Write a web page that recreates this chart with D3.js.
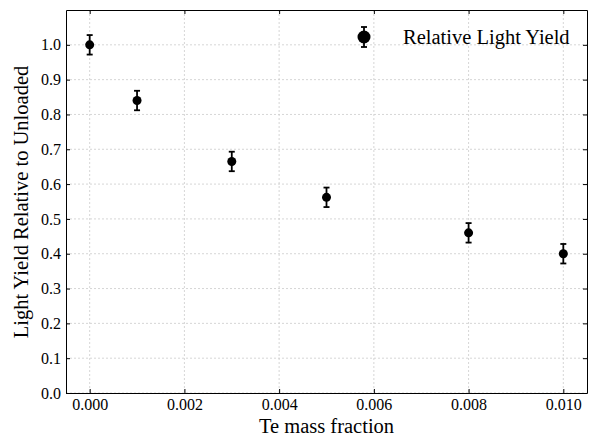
<!DOCTYPE html>
<html>
<head>
<meta charset="utf-8">
<script src="https://cdn.jsdelivr.net/npm/d3@7"></script>
<style>
body{margin:0;background:#fff;}
</style>
</head>
<body>
<div id="chart"></div>
<script>
var fractions=[0,0.001,0.003,0.005,0.008,0.010];
var yields=[1.0,0.84,0.665,0.562,0.46,0.40];
var errors=[0.028,0.028,0.028,0.028,0.028,0.028];
var xTicks=[0,0.002,0.004,0.006,0.008,0.010];
var yTicks=[0,0.1,0.2,0.3,0.4,0.5,0.6,0.7,0.8,0.9,1.0];

var width=590,height=437,
    margin={"left":66,"top":10,"right":3,"bottom":44},
    font="'Liberation Serif', 'Times New Roman', serif";

var svg=d3.select("#chart").append("svg")
    .attr("width",width).attr("height",height);

var x=d3.scaleLinear().domain([-0.0005,0.0105]).range([margin.left,width-margin.right]);
var y=d3.scaleLinear().domain([0,1.1]).range([height-margin.bottom,margin.top]);

// grid
svg.append("g").selectAll("line").data(xTicks).enter().append("line")
    .attr("x1",d=>x(d)).attr("x2",d=>x(d))
    .attr("y1",margin.top).attr("y2",height-margin.bottom)
    .attr("stroke","#ccc").attr("stroke-width",0.8).attr("stroke-dasharray","2,2");
svg.append("g").selectAll("line").data(yTicks).enter().append("line")
    .attr("x1",margin.left).attr("x2",width-margin.right)
    .attr("y1",d=>y(d)).attr("y2",d=>y(d))
    .attr("stroke","#ccc").attr("stroke-width",0.8).attr("stroke-dasharray","2,2");

// axes, ticks inward
function style(g){
    g.attr("font-family",null).attr("font-size",null);
    g.selectAll("text").attr("fill","#000").style("font-family",font).style("font-size","16px");
    g.select(".domain").attr("stroke","#000");
    g.selectAll(".tick line").attr("stroke","#000");
}
svg.append("g").attr("transform","translate(0,"+(height-margin.bottom)+")")
    .call(d3.axisBottom(x).tickValues(xTicks).tickFormat(d3.format(".3f")).tickSizeInner(-4).tickSizeOuter(0).tickPadding(6))
    .call(style);
svg.append("g").attr("transform","translate("+margin.left+",0)")
    .call(d3.axisLeft(y).tickValues(yTicks).tickFormat(d3.format(".1f")).tickSizeInner(-4).tickSizeOuter(0).tickPadding(5))
    .call(style);
svg.append("g").attr("transform","translate(0,"+margin.top+")")
    .call(d3.axisTop(x).tickValues(xTicks).tickFormat("").tickSizeInner(-4).tickSizeOuter(0))
    .call(style);
svg.append("g").attr("transform","translate("+(width-margin.right)+",0)")
    .call(d3.axisRight(y).tickValues(yTicks).tickFormat("").tickSizeInner(-4).tickSizeOuter(0))
    .call(style);

// error bars
var pts=fractions.map((f,i)=>({x:f,y:yields[i],e:errors[i]}));
var eb=svg.append("g").selectAll("g").data(pts).enter().append("g");
eb.append("line").attr("x1",d=>x(d.x)).attr("x2",d=>x(d.x))
    .attr("y1",d=>y(d.y-d.e)).attr("y2",d=>y(d.y+d.e))
    .attr("stroke","#000").attr("stroke-width",1.8);
[1,-1].forEach(function(s){
    eb.append("line").attr("x1",d=>x(d.x)-3).attr("x2",d=>x(d.x)+3)
        .attr("y1",d=>y(d.y+s*d.e)).attr("y2",d=>y(d.y+s*d.e))
        .attr("stroke","#000").attr("stroke-width",1.8);
});
svg.append("g").selectAll("circle").data(pts).enter().append("circle")
    .attr("cx",d=>x(d.x)).attr("cy",d=>y(d.y)).attr("r",4.5).attr("fill","#000");

// legend
var lg=svg.append("g").attr("transform","translate(364,37)");
lg.append("line").attr("y1",-10).attr("y2",10).attr("stroke","#000").attr("stroke-width",1.8);
lg.append("line").attr("x1",-3).attr("x2",3).attr("y1",-10).attr("y2",-10).attr("stroke","#000").attr("stroke-width",1.8);
lg.append("line").attr("x1",-3).attr("x2",3).attr("y1",10).attr("y2",10).attr("stroke","#000").attr("stroke-width",1.8);
lg.append("circle").attr("r",6.5).attr("fill","#000");
lg.append("text").attr("x",39).attr("y",7).style("font-family",font).style("font-size","20.5px").text("Relative Light Yield");

// labels
svg.append("text").attr("x",(margin.left+width-margin.right)/2).attr("y",433)
    .style("font-family",font).attr("text-anchor","middle").style("font-size","20.5px").text("Te mass fraction");
svg.append("text").attr("transform","translate(28,202) rotate(-90)")
    .style("font-family",font).attr("text-anchor","middle").style("font-size","20.5px").text("Light Yield Relative to Unloaded");
</script>
</body>
</html>
